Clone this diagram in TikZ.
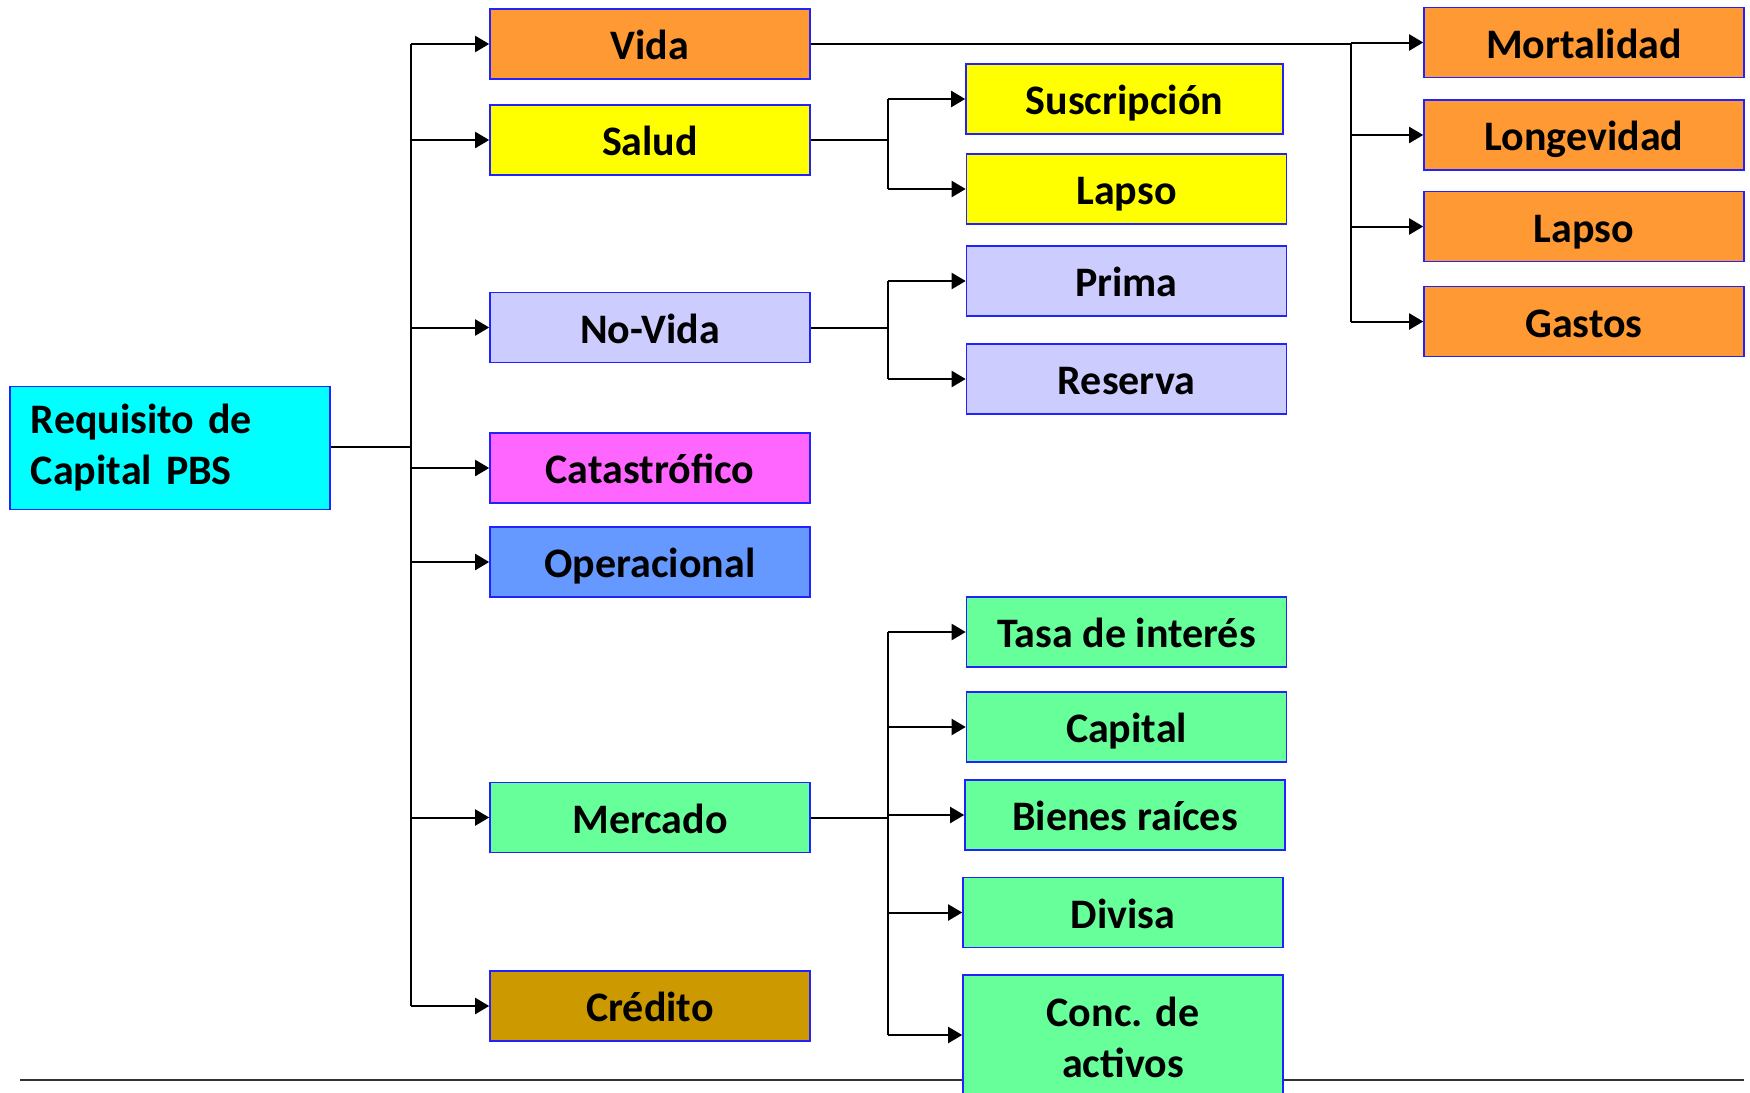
\documentclass[tikz,border=0pt]{standalone}
\usepackage{fontspec}
\setmainfont{Carlito}
\usepackage{tikz}
\usetikzlibrary{arrows.meta}

\definecolor{vidaor}{HTML}{FF9933}
\definecolor{saludye}{HTML}{FFFF00}
\definecolor{novidali}{HTML}{CCCCFF}
\definecolor{catapk}{HTML}{FF66FF}
\definecolor{operbl}{HTML}{6699FF}
\definecolor{mercgr}{HTML}{66FF99}
\definecolor{credbr}{HTML}{CC9900}
\definecolor{rootcy}{HTML}{00FFFF}
\definecolor{edgebl}{HTML}{2222FF}
\newcommand{\boxfont}{\fontsize{21}{25.5}\selectfont\bfseries}

\begin{document}
\begin{tikzpicture}[x=0.5pt,y=-0.5pt]
	\tikzstyle{box}=[draw=edgebl,line width=0.8pt,minimum width=160pt,minimum height=35pt,inner sep=0pt,font=\boxfont,align=center]
	\tikzstyle{risk}=[box,text height=16pt,text depth=0.5pt]
	\tikzstyle{link}=[line width=1pt]
	\tikzstyle{arr}=[line width=1pt,-{Triangle[length=7pt,width=8pt]}]
	\useasboundingbox (0,0) rectangle (1750,1092);
	% linea inferior
	\draw[line width=1.3pt,black!80] (20,1080) -- (1744,1080);
	% raiz
	\node[box,fill=rootcy,minimum height=61.5pt,text width=139pt,align=left](req) at (170,448) {Requisito de\\Capital PBS};
	% primer nivel
	\node[risk,fill=vidaor](vida) at (650,44) {Vida};
	\node[risk,fill=saludye](salud) at (650,140) {Salud};
	\node[risk,fill=novidali](novida) at (650,327.5) {No-Vida};
	\node[risk,fill=catapk](cat) at (650,468) {Catastrófico};
	\node[risk,fill=operbl](oper) at (650,562) {Operacional};
	\node[risk,fill=mercgr](merc) at (650,817.5) {Mercado};
	\node[risk,fill=credbr](cred) at (650,1006) {Crédito};
	% segundo nivel
	\node[risk,fill=saludye,minimum width=158.5pt](susc) at (1124.5,99) {Suscripción};
	\node[risk,fill=saludye](lapsos) at (1126.5,189) {Lapso};
	\node[risk,fill=novidali](prima) at (1126.5,281) {Prima};
	\node[risk,fill=novidali](reserva) at (1126.5,379) {Reserva};
	\node[risk,fill=mercgr](tasa) at (1126.5,632) {Tasa de interés};
	\node[risk,fill=mercgr](capital) at (1126.5,727) {Capital};
	\node[risk,fill=mercgr](bienes) at (1125,815) {Bienes raíces};
	\node[risk,fill=mercgr](divisa) at (1123,912.5) {Divisa};
	\node[box,fill=mercgr,minimum height=62pt](conc) at (1123,1037) {Conc. de\\activos};
	% vida
	\node[risk,fill=vidaor](mort) at (1584,42.5) {Mortalidad};
	\node[risk,fill=vidaor](longev) at (1584,135) {Longevidad};
	\node[risk,fill=vidaor](lapsov) at (1584,226.5) {Lapso};
	\node[risk,fill=vidaor](gastos) at (1584,321.5) {Gastos};
	% conectores
	\coordinate (tr) at (411,446.5);
	\draw[link](req.east |- tr) -- (tr);
	\draw[link](tr |- vida) -- (tr |- cred);
	\foreach \n in {vida,salud,novida,cat,oper,merc,cred}
		\draw[arr](tr |- \n.west) -- (\n.west);
	\coordinate (sb) at (888,140);
	\draw[link](salud) -- (sb);
	\draw[link](sb |- susc) -- (sb |- lapsos);
	\foreach \n in {susc,lapsos}
		\draw[arr](sb |- \n.west) -- (\n.west);
	\coordinate (nb) at (888,327.5);
	\draw[link](novida) -- (nb);
	\draw[link](nb |- prima) -- (nb |- reserva);
	\foreach \n in {prima,reserva}
		\draw[arr](nb |- \n.west) -- (\n.west);
	\coordinate (mb) at (888,817.5);
	\coordinate (cc) at (888,1035);
	\draw[link](merc) -- (mb);
	\draw[link](mb |- tasa) -- (cc);
	\foreach \n in {tasa,capital,bienes,divisa}
		\draw[arr](mb |- \n.west) -- (\n.west);
	\draw[arr](cc) -- (conc.west |- cc);
	\coordinate (vb) at (1351,44);
	\draw[link](vida) -- (vb);
	\draw[link](vb) -- (vb |- gastos);
	\foreach \n in {mort,longev,lapsov,gastos}
		\draw[arr](vb |- \n.west) -- (\n.west);
\end{tikzpicture}
\end{document}
